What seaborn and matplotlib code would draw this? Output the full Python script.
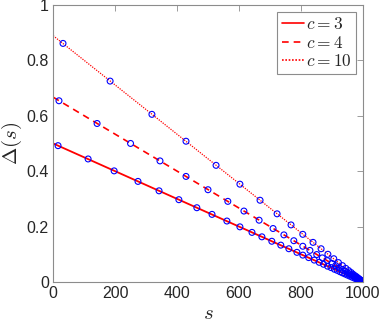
import pandas as pd
import seaborn as sns
import matplotlib.pyplot as plt

# straight lines (end points)
line_s = [0, 1000]
line_c3 = [0.5, 0.0]
line_c4 = [0.667, 0.0]
line_c10 = [0.889, 0.0]

# circles
s_c3 = [16, 113, 197, 274, 342, 406, 464, 513, 561, 603, 642, 674, 706, 735, 761,
        787, 806, 825, 843, 859, 873, 886, 897, 908, 917, 926, 934, 942, 950, 958,
        966, 974, 982, 990, 996]
d_c3 = [0.492, 0.444, 0.401, 0.363, 0.329, 0.297, 0.268, 0.244, 0.220, 0.199, 0.179,
        0.163, 0.147, 0.133, 0.120, 0.107, 0.097, 0.088, 0.079, 0.071, 0.064, 0.057,
        0.052, 0.046, 0.042, 0.037, 0.033, 0.029, 0.025, 0.021, 0.017, 0.013, 0.009,
        0.005, 0.002]
s_c4 = [19, 142, 250, 345, 429, 500, 564, 616, 665, 710, 745, 777, 806, 829, 851, 869,
        885, 900, 912, 923, 933, 942, 950, 957, 963, 969, 974, 979, 984, 988, 992, 996]
d_c4 = [0.654, 0.572, 0.500, 0.437, 0.381, 0.333, 0.291, 0.256, 0.223, 0.193, 0.170,
        0.149, 0.129, 0.114, 0.099, 0.087, 0.077, 0.067, 0.059, 0.051, 0.045, 0.039,
        0.033, 0.029, 0.025, 0.021, 0.017, 0.014, 0.011, 0.008, 0.005, 0.003]
s_c10 = [32, 184, 319, 429, 526, 603, 668, 723, 768, 806, 839, 865, 887, 906, 921, 934,
         945, 954, 962, 968, 974, 979, 983, 987, 990, 993, 996]
d_c10 = [0.861, 0.725, 0.605, 0.508, 0.421, 0.353, 0.295, 0.246, 0.206, 0.172, 0.143,
         0.120, 0.100, 0.084, 0.070, 0.059, 0.049, 0.041, 0.034, 0.028, 0.023, 0.019,
         0.015, 0.012, 0.009, 0.006, 0.004]

labels = ["$c=3$", "$c=4$", "$c=10$"]

sns.set_theme(style="white")
plt.rcParams["font.family"] = ["Liberation Sans", "DejaVu Sans"]
plt.rcParams["mathtext.fontset"] = "cm"

lines = pd.DataFrame({
    "s": line_s * 3,
    "delta": line_c3 + line_c4 + line_c10,
    "c": [labels[0]] * 2 + [labels[1]] * 2 + [labels[2]] * 2,
})
pts = pd.DataFrame({
    "s": s_c3 + s_c4 + s_c10,
    "delta": d_c3 + d_c4 + d_c10,
})

fig = plt.figure(figsize=(3.82, 3.26), dpi=100)
ax = fig.add_axes([0.139, 0.135, 0.811, 0.85])

# theory lines
sns.lineplot(data=lines, x="s", y="delta", hue="c", style="c",
             palette=["red"] * 3, dashes=[(None, None), (4, 3), (1, 1)],
             linewidth=1.2, ax=ax)
for l, lw in zip(ax.lines[:3], [1.3, 1.2, 0.9]):
    l.set_linewidth(lw)

# simulated points
sns.scatterplot(data=pts, x="s", y="delta", marker="o", s=18,
                facecolor="none", edgecolor="blue", linewidth=0.8,
                legend=False, ax=ax, zorder=3)

ax.set_xlim(0, 1000)
ax.set_ylim(0, 1)
ax.set_xticks([0, 200, 400, 600, 800, 1000])
ax.set_yticks([0, 0.2, 0.4, 0.6, 0.8, 1])
ax.set_yticklabels(["0", "0.2", "0.4", "0.6", "0.8", "1"])
ax.tick_params(direction="in", length=4, width=0.6, color="#8c8c8c",
               labelsize=11.5, labelcolor="#262626", top=True, right=True,
               pad=3)
for sp in ax.spines.values():
    sp.set_color("#8c8c8c")
    sp.set_linewidth(0.8)

ax.set_xlabel("$s$", fontsize=15, color="#262626", labelpad=2)
ax.set_ylabel(r"$\Delta(s)$", fontsize=15, color="#262626", labelpad=2)

leg = ax.legend(loc="upper right", fontsize=12.5, frameon=True, fancybox=False,
                framealpha=1, edgecolor="#8c8c8c", handlelength=1.3,
                handletextpad=0.1, borderpad=0.25, labelspacing=0.15,
                borderaxespad=0.4)
leg.get_frame().set_linewidth(0.8)

fig.savefig("out.png", dpi=100)
